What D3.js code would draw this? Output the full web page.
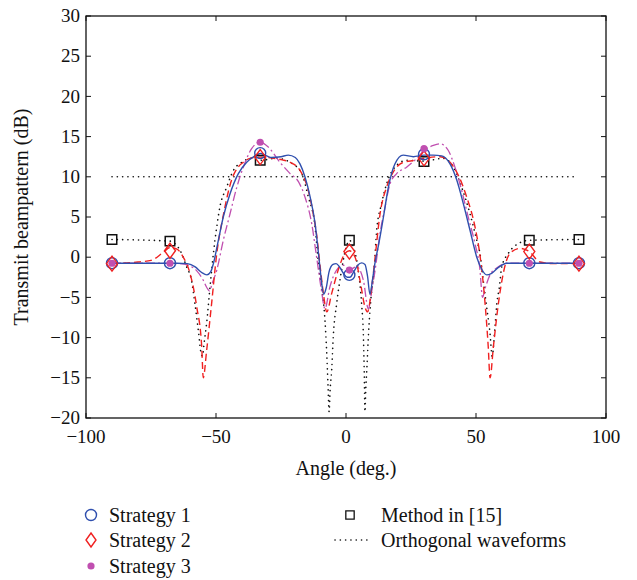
<!DOCTYPE html>
<html>
<head>
<meta charset="utf-8">
<script src="https://cdn.jsdelivr.net/npm/d3@7"></script>
<style>
  body { margin: 0; background: #fff; }
</style>
</head>
<body>
<svg id="chart" width="637" height="580" font-family="'Liberation Serif', 'Times New Roman', 'DejaVu Serif', serif"></svg>
<script>
// beampattern curves, angle in degrees, gain in dB
var s1Angle = [-90, -75, -65, -61, -58, -55.5, -53.5, -52, -51, -49.1, -47.2, -44.6, -41.4, -38.2, -35, -33, -30.5, -28.6, -25, -22.2, -19.5, -17.7, -15.8, -13.8, -11.9, -10.6, -9.6, -8.6, -7.6, -6.5, -5, -3.8, -2.5, -1, 0.5, 1.5, 3, 4.5, 6, 7.3, 8.3, 9.2, 10.2, 11.2, 12.5, 14.4, 16.3, 18.8, 22, 25.9, 30, 33.5, 36.8, 40, 42.6, 45.1, 47.7, 50.3, 52.2, 54.1, 56, 58.5, 61.8, 70, 80, 89.6]
var s1Gain = [-0.75, -0.75, -0.75, -0.8, -1.2, -1.9, -2.2, -1.8, -0.8, 2.1, 5.0, 7.9, 10.4, 11.8, 12.6, 12.9, 12.6, 12.4, 12.5, 12.7, 12.4, 11.6, 10, 7.5, 4.2, 0.5, -2.5, -4.6, -3.8, -1.8, -0.9, -0.8, -1.2, -2.0, -2.5, -2.5, -1.8, -1.0, -0.7, -0.9, -2.4, -4.6, -2.8, -0.6, 1.5, 5.0, 8.7, 11.6, 12.7, 12.5, 12.7, 12.7, 12.6, 11.6, 9.6, 6.7, 3.35, 0.0, -1.5, -2.2, -2.0, -1.3, -0.75, -0.75, -0.75, -0.75]

var s2Angle = [-90, -80, -75, -70.3, -67.7, -65, -62.6, -60, -57.4, -55.5, -54.9, -53.6, -51.7, -49.7, -47.2, -44, -41.5, -39.5, -36.9, -33, -28, -24.5, -21.5, -17.7, -14.5, -12.6, -11.3, -10, -8.7, -7.4, -5.5, -3, -0.4, 1.3, 3.5, 5.4, 7.3, 8.3, 9.9, 11.2, 13.1, 15.6, 18.2, 22, 26.5, 30.1, 36.2, 40, 43.2, 46.4, 49.6, 51.5, 53.5, 54.7, 55.4, 56.7, 58.6, 60.5, 63.1, 66.9, 70.5, 74.6, 80, 89.6]
var s2Gain = [-0.8, -0.6, -0.4, 0.6, 1.2, 1.0, 0.0, -2, -6.2, -11.1, -15, -11.6, -5.8, 0.46, 5.2, 9.6, 11.2, 11.8, 12.3, 12.45, 12.3, 12.1, 11.8, 10.8, 8.3, 5.4, 2.8, -1.0, -4.5, -6.8, -4.5, -1.6, 0.46, 0.8, 0.0, -2.9, -6.2, -6.8, -3.7, 0, 5.4, 8.7, 10.6, 11.8, 12.05, 12.3, 12.5, 11.8, 10.2, 7.5, 3.8, 0.3, -5.8, -11.1, -15, -11.1, -5.8, -2, 0.5, 1.1, 0.7, -0.6, -0.8, -0.8]

var s3Angle = [-90, -75, -64, -60, -57.4, -55, -53.5, -52.5, -51.5, -49.7, -47.2, -44.6, -42, -39.5, -36.3, -33.1, -29.9, -25.4, -21.5, -18.3, -15.8, -13.2, -11.3, -9.5, -8.1, -6.2, -3.6, -1, 1.5, 4.1, 6.7, 8.6, 10, 11.2, 13.1, 15, 16.9, 19.5, 23.3, 27.2, 30.1, 33.6, 36.2, 39.3, 41.9, 44.5, 47, 49.6, 51.5, 52.5, 53.5, 55.4, 58.6, 61.8, 75, 89.6]
var s3Gain = [-0.75, -0.75, -0.8, -1.1, -1.7, -2.8, -3.8, -4.2, -3.3, -1.6, 2.1, 5.4, 8.7, 11.2, 13.5, 14.3, 13.7, 11.8, 10.4, 9.4, 7.5, 4.2, 0, -4, -6.4, -3.7, -1.6, -1, -1.5, -1.2, -2.9, -6.4, -4, -1.6, 3.0, 6.2, 9.1, 10.4, 11.2, 12.3, 13.3, 13.9, 14.1, 13.3, 11.2, 8.3, 5, 1.7, -1.5, -5, -3.9, -2.2, -1.2, -0.75, -0.75, -0.75]

var m15Angle = [-90, -67.7, -65.5, -63.2, -61.3, -59.4, -58.1, -56.8, -55.7, -55.2, -54.5, -53.6, -52.3, -51, -49.7, -48.5, -45.9, -43.3, -40.1, -36.3, -33, -26.7, -21.5, -17, -14.5, -11.9, -10.6, -9.4, -8.1, -7.4, -6.9, -6.5, -6.1, -5.5, -4.9, -3.6, -1.7, 0.3, 1.3, 2.8, 4.7, 6, 6.7, 7.0, 7.3, 7.6, 8, 8.6, 9.5, 10.8, 11.8, 13.7, 15.6, 18.8, 23.3, 30.1, 37.4, 41.3, 44.5, 47.7, 50.3, 51.5, 52.8, 54.1, 55.4, 56.2, 57.3, 58, 59, 59.9, 62.4, 66.3, 70.5, 89.6]
var m15Gain = [2.2, 2.0, 1.6, 0.46, -1.2, -2.9, -5.8, -9.1, -12, -12.3, -10.5, -8.2, -3.7, 0.46, 3.8, 6.25, 8.7, 10.8, 11.8, 12.3, 12.05, 12.3, 11.8, 10.4, 7.5, 3.8, -0.8, -3.7, -7.8, -12, -16.1, -19.2, -16.5, -14, -9.9, -5.8, -1.6, 1.5, 2.1, 1.3, -1.6, -5.8, -9.9, -14, -19.2, -16.5, -14, -9.9, -5.5, -1.6, 3.35, 6.7, 9.1, 11.2, 12.05, 11.95, 12.3, 11.2, 8.7, 5.4, 2.1, 0.5, -2.9, -6.2, -9.5, -12.3, -8.7, -5.8, -3.7, -1.2, 0.46, 1.7, 2.1, 2.2]

var orthAngle = [-90, 88]
var orthGain = [10, 10]

// sampled angles where markers sit
var markAngle = [-90, -67.7, -33, 1.3, 30, 70.5, 89.6]
var s1Mark = [-0.75, -0.75, 12.95, -2.2, 12.8, -0.75, -0.75]
var s2Mark = [-0.8, 0.8, 12.45, 0.7, 12.3, 0.7, -0.8]
var s3Mark = [-0.75, -0.75, 14.3, -1.6, 13.5, -0.75, -0.75]
var m15Mark = [2.2, 2.0, 12.05, 2.1, 11.9, 2.1, 2.2]

var xTicks = [-100, -50, 0, 50, 100]
var yTicks = [-20, -15, -10, -5, 0, 5, 10, 15, 20, 25, 30]

var blue = '#2f4fae', red = '#f02020', purple = '#c04fb0'

var m = {left: 86, top: 16}
var w = 520, h = 402

var svg = d3.select('#chart')
var g = svg.append('g').attr('transform', 'translate(' + m.left + ',' + m.top + ')')

var x = d3.scaleLinear().domain([-100, 100]).range([0, w])
var y = d3.scaleLinear().domain([-20, 30]).range([h, 0])

svg.append('defs').append('clipPath').attr('id', 'clip')
  .append('rect').attr('x', 0).attr('y', 0).attr('width', w).attr('height', h)

function pairs(a, b) {
  return a.map(function (d, i) { return [d, b[i]] })
}

var line = d3.line()
  .x(function (d) { return x(d[0]) })
  .y(function (d) { return y(d[1]) })
  .curve(d3.curveMonotoneX)

var plot = g.append('g').attr('clip-path', 'url(#clip)')

plot.append('path').datum(pairs(orthAngle, orthGain))
  .attr('d', line).attr('fill', 'none').attr('stroke', '#111')
  .attr('stroke-width', 1.6).attr('stroke-dasharray', '0.1,5.2').attr('stroke-linecap', 'round')

plot.append('path').datum(pairs(m15Angle, m15Gain))
  .attr('d', line).attr('fill', 'none').attr('stroke', '#111')
  .attr('stroke-width', 1.6).attr('stroke-dasharray', '0.1,5.2').attr('stroke-linecap', 'round')

plot.append('path').datum(pairs(s3Angle, s3Gain))
  .attr('d', line).attr('fill', 'none').attr('stroke', purple)
  .attr('stroke-width', 1.3).attr('stroke-dasharray', '9,3,2,3')

plot.append('path').datum(pairs(s2Angle, s2Gain))
  .attr('d', line).attr('fill', 'none').attr('stroke', red)
  .attr('stroke-width', 1.4).attr('stroke-dasharray', '7,4')

plot.append('path').datum(pairs(s1Angle, s1Gain))
  .attr('d', line).attr('fill', 'none').attr('stroke', blue)
  .attr('stroke-width', 1.4)

// markers
var sym = function (type, size) { return d3.symbol().type(type).size(size)() }
var diamond = 'translate(0,0)'

g.selectAll('.m15').data(pairs(markAngle, m15Mark)).enter().append('path')
  .attr('transform', function (d) { return 'translate(' + x(d[0]) + ',' + y(d[1]) + ')' })
  .attr('d', sym(d3.symbolSquare, 90)).attr('fill', 'none').attr('stroke', '#111').attr('stroke-width', 1.5)

g.selectAll('.s1').data(pairs(markAngle, s1Mark)).enter().append('circle')
  .attr('cx', function (d) { return x(d[0]) }).attr('cy', function (d) { return y(d[1]) })
  .attr('r', 5.5).attr('fill', 'none').attr('stroke', blue).attr('stroke-width', 1.4)

g.selectAll('.s2').data(pairs(markAngle, s2Mark)).enter().append('path')
  .attr('transform', function (d) { return 'translate(' + x(d[0]) + ',' + y(d[1]) + ')' })
  .attr('d', 'M0,-7.5L5.5,0L0,7.5L-5.5,0Z').attr('fill', 'none').attr('stroke', red).attr('stroke-width', 1.4)

g.selectAll('.s3').data(pairs(markAngle, s3Mark)).enter().append('circle')
  .attr('cx', function (d) { return x(d[0]) }).attr('cy', function (d) { return y(d[1]) })
  .attr('r', 3.6).attr('fill', purple)

// axes box with inward ticks
g.append('rect').attr('width', w).attr('height', h)
  .attr('fill', 'none').attr('stroke', '#111').attr('stroke-width', 1.3)

var tl = 5
g.append('g').selectAll('line').data(xTicks).enter().append('line')
  .attr('x1', x).attr('x2', x).attr('y1', h).attr('y2', h - tl)
  .attr('stroke', '#111').attr('stroke-width', 1)
g.append('g').selectAll('line').data(xTicks).enter().append('line')
  .attr('x1', x).attr('x2', x).attr('y1', 0).attr('y2', tl)
  .attr('stroke', '#111').attr('stroke-width', 1)
g.append('g').selectAll('line').data(yTicks).enter().append('line')
  .attr('y1', y).attr('y2', y).attr('x1', 0).attr('x2', tl)
  .attr('stroke', '#111').attr('stroke-width', 1)
g.append('g').selectAll('line').data(yTicks).enter().append('line')
  .attr('y1', y).attr('y2', y).attr('x1', w).attr('x2', w - tl)
  .attr('stroke', '#111').attr('stroke-width', 1)

var fmt = function (d) { return d < 0 ? '\u2212' + Math.abs(d) : '' + d }

g.append('g').selectAll('text').data(xTicks).enter().append('text')
  .attr('x', x).attr('y', h + 25).attr('text-anchor', 'middle')
  .attr('font-size', 19).attr('fill', '#111').text(fmt)
g.append('g').selectAll('text').data(yTicks).enter().append('text')
  .attr('x', -6).attr('y', y).attr('dy', '0.33em').attr('text-anchor', 'end')
  .attr('font-size', 19).attr('fill', '#111').text(fmt)

svg.append('text').attr('x', m.left + w / 2).attr('y', 475).attr('text-anchor', 'middle')
  .attr('font-size', 20).attr('fill', '#111').text('Angle (deg.)')
svg.append('text').attr('transform', 'translate(28,217) rotate(-90)').attr('text-anchor', 'middle')
  .attr('font-size', 20).attr('fill', '#111').text('Transmit beampattern (dB)')

// legend
var lg = svg.append('g')
var rows = [515, 540, 566]
lg.append('circle').attr('cx', 91).attr('cy', rows[0]).attr('r', 5.5)
  .attr('fill', 'none').attr('stroke', blue).attr('stroke-width', 1.4)
lg.append('path').attr('transform', 'translate(91,' + rows[1] + ')')
  .attr('d', 'M0,-7L5,0L0,7L-5,0Z').attr('fill', 'none').attr('stroke', red).attr('stroke-width', 1.4)
lg.append('circle').attr('cx', 91).attr('cy', rows[2]).attr('r', 3.6).attr('fill', purple)
lg.append('path').attr('transform', 'translate(350,' + rows[0] + ')')
  .attr('d', sym(d3.symbolSquare, 70)).attr('fill', 'none').attr('stroke', '#111').attr('stroke-width', 1.3)
lg.append('line').attr('x1', 335).attr('x2', 367).attr('y1', rows[1]).attr('y2', rows[1])
  .attr('stroke', '#111').attr('stroke-width', 1.6).attr('stroke-dasharray', '0.1,5.2').attr('stroke-linecap', 'round')

var labels = [['Strategy 1', 109, rows[0]], ['Strategy 2', 109, rows[1]], ['Strategy 3', 109, rows[2]],
  ['Method in [15]', 381, rows[0]], ['Orthogonal waveforms', 381, rows[1]]]
lg.selectAll('text').data(labels).enter().append('text')
  .attr('x', function (d) { return d[1] }).attr('y', function (d) { return d[2] })
  .attr('dy', '0.35em').attr('font-size', 20).attr('fill', '#111').text(function (d) { return d[0] })
</script>
</body>
</html>
